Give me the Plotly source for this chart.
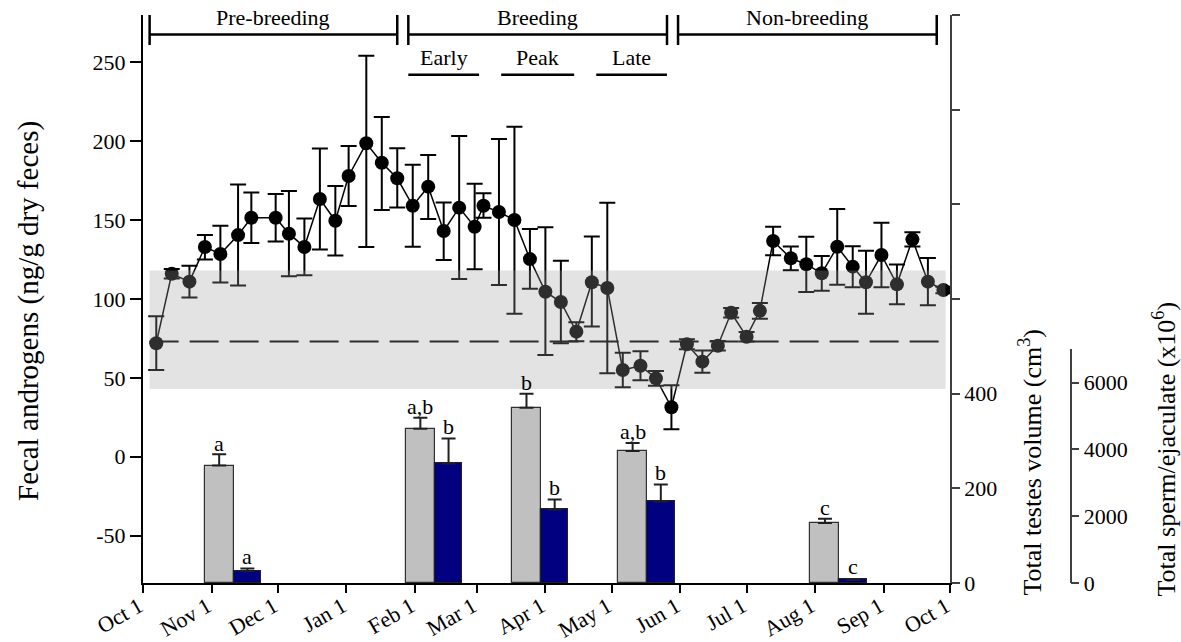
import pandas as pd
import plotly.graph_objects as go

# ---------------- data ----------------
# weekly fecal androgen samples (mean, +/- SE)
sample_dates = [
    "2004-10-07", "2004-10-14", "2004-10-22", "2004-10-29", "2004-11-05", "2004-11-13",
    "2004-11-19", "2004-11-30", "2004-12-06", "2004-12-13", "2004-12-20", "2004-12-27",
    "2005-01-02", "2005-01-10", "2005-01-17", "2005-01-24", "2005-01-31", "2005-02-07",
    "2005-02-14", "2005-02-21", "2005-02-28", "2005-03-04", "2005-03-11", "2005-03-18",
    "2005-03-25", "2005-04-01", "2005-04-08", "2005-04-15", "2005-04-22", "2005-04-29",
    "2005-05-06", "2005-05-14", "2005-05-21", "2005-05-28", "2005-06-04", "2005-06-11",
    "2005-06-18", "2005-06-24", "2005-07-01", "2005-07-07", "2005-07-13", "2005-07-21",
    "2005-07-28", "2005-08-04", "2005-08-11", "2005-08-18", "2005-08-24", "2005-08-31",
    "2005-09-07", "2005-09-14", "2005-09-21", "2005-09-28",
]
androgen_mean = [
    72, 116, 111, 133, 128.5, 140.5, 151.5, 151.5, 141.4, 133, 163.4, 149.6,
    178, 198.7, 186.4, 176.5, 159.1, 171.2, 143.1, 157.9, 145.8, 159.1, 155.1, 150.1,
    125.3, 104.6, 98.1, 79.3, 110.6, 107, 55, 57.7, 49.7, 31.4, 71.3, 60.3,
    70.4, 91.3, 76.1, 92.5, 136.8, 125.8, 122, 116.3, 133.1, 120.5, 110.6, 127.9,
    109.3, 137.8, 111, 105.7,
]
androgen_err_up = [
    17, 3, 10, 7.5, 18, 32, 16, 15, 27, 18, 32, 22,
    19, 55.5, 29, 19, 26, 20, 18, 45.4, 27.3, 8, 46.3, 59,
    19, 40.8, 26.2, 6, 29, 54, 11, 9.2, 4.7, 14, 3.2, 7,
    3, 3, 3, 5, 9, 7.5, 17.5, 11, 24, 13, 20, 20.5,
    12.6, 4.5, 15, 2,
]
androgen_err_down = [
    17, 3, 10, 8, 18, 32, 16, 15, 27, 18, 32, 22,
    19, 65.7, 30, 18.5, 26, 20.5, 18.4, 45.2, 27, 7.6, 46.2, 59.4,
    18.8, 40.1, 26.2, 6, 28, 54, 11, 9.2, 4.7, 14, 3.2, 7,
    3, 3, 3, 5, 9, 7.5, 17.5, 11, 24, 13, 20, 20.5,
    12.6, 4.5, 15, 2,
]

# baseline androgen level and its range
baseline_level = 73
baseline_low = 43
baseline_high = 118
baseline_span = ["2004-10-04", "2005-09-29"]

# reproductive examinations
exam_dates = ["2004-11-11", "2005-02-10", "2005-03-30", "2005-05-17", "2005-08-12"]
testes_volume = [248, 326, 370, 279, 127]
testes_err = [24, 23, 30, 17, 9]
testes_letters = ["a", "a,b", "b", "a,b", "c"]
sperm_total = [360, 3576, 2198, 2438, 100]
sperm_err = [72, 749, 300, 509, 20]
sperm_letters = ["a", "b", "b", "b", "c"]

# seasons and breeding sub-phases
season_names = ["Pre-breeding", "Breeding", "Non-breeding"]
season_start = ["2004-10-04", "2005-01-29", "2005-05-31"]
season_end = ["2005-01-24", "2005-05-26", "2005-09-25"]
phase_names = ["Early", "Peak", "Late"]
phase_start = ["2005-01-29", "2005-03-12", "2005-04-24"]
phase_end = ["2005-03-02", "2005-04-14", "2005-05-26"]

# axis ticks
month_ticks = ["2004-10-01", "2004-11-01", "2004-12-01", "2005-01-01", "2005-02-01",
               "2005-03-01", "2005-04-01", "2005-05-01", "2005-06-01", "2005-07-01",
               "2005-08-01", "2005-09-01", "2005-10-01"]
month_labels = ["Oct 1", "Nov 1", "Dec 1", "Jan 1", "Feb 1", "Mar 1", "Apr 1",
                "May 1", "Jun 1", "Jul 1", "Aug 1", "Sep 1", "Oct 1"]
androgen_ticks = [-50, 0, 50, 100, 150, 200, 250]
androgen_labels = ["-50", "0", "50", "100", "150", "200", "250"]
volume_ticks = [0, 200, 400]
volume_minor_ticks = [600, 800, 1000, 1200]
sperm_ticks = [0, 2000, 4000, 6000]

# ---------------- styling ----------------
FONT = "Liberation Serif"
TICK = 22
DAY_MS = 86400000
grey_w = 13.1 * DAY_MS
blue_w = 12.4 * DAY_MS

L, R, T, B = 143, 10, 15, 59
W, H = 1181, 642
pw, ph = W - L - R, H - T - B
x_dom = 807 / pw

fig = go.Figure()

# testes volume bars (right axis)
fig.add_trace(go.Bar(
    x=exam_dates, y=testes_volume, yaxis="y2", width=grey_w, offset=-grey_w,
    marker=dict(color="#c0c0c0", line=dict(color="#303030", width=1.2)),
    error_y=dict(type="data", symmetric=False, array=testes_err,
                 arrayminus=[0] * len(testes_err), color="#202020", thickness=2, width=7),
    showlegend=False,
))

# sperm per ejaculate bars (outer right axis)
fig.add_trace(go.Bar(
    x=exam_dates, y=sperm_total, yaxis="y3", width=blue_w, offset=0,
    marker=dict(color="#000080", line=dict(color="#202020", width=1.2)),
    error_y=dict(type="data", symmetric=False, array=sperm_err,
                 arrayminus=[0] * len(sperm_err), color="#202020", thickness=2, width=7),
    showlegend=False,
))

# fecal androgen time course
fig.add_trace(go.Scatter(
    x=sample_dates, y=androgen_mean, mode="lines+markers",
    line=dict(color="black", width=1.5),
    marker=dict(color="black", size=14),
    error_y=dict(type="data", symmetric=False, array=androgen_err_up,
                 arrayminus=androgen_err_down, color="black", thickness=2, width=8),
    showlegend=False, cliponaxis=False,
))

shapes = []
# baseline (dashed) and baseline range (translucent band on top of the data)
shapes.append(dict(type="line", xref="x", yref="y", layer="above",
                   x0=baseline_span[0], x1=baseline_span[1],
                   y0=baseline_level, y1=baseline_level,
                   line=dict(color="black", width=2, dash="29px,11px")))
shapes.append(dict(type="rect", xref="x", yref="y", layer="above",
                   x0=baseline_span[0], x1=baseline_span[1],
                   y0=baseline_low, y1=baseline_high,
                   fillcolor="rgba(157,157,157,0.29)", line=dict(width=0)))

annotations = []
# season brackets
SEASON_Y, CAP_LO, CAP_HI = 267.7, 261, 280
for name, s, e in zip(season_names, season_start, season_end):
    shapes.append(dict(type="line", xref="x", yref="y", x0=s, x1=e, y0=SEASON_Y, y1=SEASON_Y,
                       line=dict(color="black", width=2.5)))
    for xx in (s, e):
        shapes.append(dict(type="line", xref="x", yref="y", x0=xx, x1=xx, y0=CAP_LO, y1=CAP_HI,
                           line=dict(color="black", width=2.5)))
    mid = pd.Timestamp(s) + (pd.Timestamp(e) - pd.Timestamp(s)) / 2
    annotations.append(dict(x=mid, y=278.5, xref="x", yref="y", text=name, showarrow=False,
                            xanchor="center", yanchor="middle",
                            font=dict(family=FONT, size=TICK, color="black")))

# breeding sub-phases
PHASE_Y = 242.1
for name, s, e in zip(phase_names, phase_start, phase_end):
    shapes.append(dict(type="line", xref="x", yref="y", x0=s, x1=e, y0=PHASE_Y, y1=PHASE_Y,
                       line=dict(color="black", width=2.5)))
    mid = pd.Timestamp(s) + (pd.Timestamp(e) - pd.Timestamp(s)) / 2
    annotations.append(dict(x=mid, y=253, xref="x", yref="y", text=name, showarrow=False,
                            xanchor="center", yanchor="middle",
                            font=dict(family=FONT, size=TICK, color="black")))

# significance letters above the bars
for d, v, err, lab in zip(exam_dates, testes_volume, testes_err, testes_letters):
    cx = pd.Timestamp(d) - pd.Timedelta(milliseconds=grey_w / 2)
    annotations.append(dict(x=cx, y=v + err, xref="x", yref="y2", text=lab, showarrow=False,
                            xanchor="center", yanchor="middle", yshift=11,
                            font=dict(family=FONT, size=TICK, color="black")))
for d, v, err, lab in zip(exam_dates, sperm_total, sperm_err, sperm_letters):
    cx = pd.Timestamp(d) + pd.Timedelta(milliseconds=blue_w / 2)
    annotations.append(dict(x=cx, y=v + err, xref="x", yref="y3", text=lab, showarrow=False,
                            xanchor="center", yanchor="middle", yshift=12,
                            font=dict(family=FONT, size=TICK, color="black")))


def px_x(px):
    return (px - L) / pw


def px_y(py):
    return (H - B - py) / ph


# axis titles
titles = [
    ("Fecal androgens (ng/g dry feces)", 28, 311, 29),
    ("Total testes volume (cm<sup>3</sup>)", 1031, 462.5, 26),
    ("Total sperm/ejaculate (x10<sup>6</sup>)", 1165, 449.5, 26),
]
for text, cx, cy, size in titles:
    annotations.append(dict(x=px_x(cx), y=px_y(cy), xref="paper", yref="paper", textangle=-90,
                            text=text, showarrow=False, xanchor="center", yanchor="middle",
                            font=dict(family=FONT, size=size, color="black")))

tickfont = dict(family=FONT, size=TICK, color="black")

fig.update_layout(
    template="none",
    width=W, height=H,
    margin=dict(l=L, r=R, t=T, b=B, pad=0),
    paper_bgcolor="white", plot_bgcolor="rgba(0,0,0,0)",
    bargap=0,
    font=dict(family=FONT, size=TICK, color="black"),
    xaxis=dict(
        type="date", domain=[0, x_dom], range=[month_ticks[0], month_ticks[-1]],
        tickvals=month_ticks, ticktext=month_labels, tickangle=-30, tickfont=tickfont,
        ticklabelstandoff=-8, ticklabelshift=-4,
        showgrid=False, zeroline=False, showline=True, linecolor="black", linewidth=2,
        ticks="outside", ticklen=8, tickwidth=2, tickcolor="black", automargin=False,
    ),
    yaxis=dict(
        range=[-80, 280], tickvals=androgen_ticks, ticktext=androgen_labels, tickfont=tickfont,
        showgrid=False, zeroline=False, showline=True, linecolor="black", linewidth=2,
        ticks="outside", ticklen=11, tickwidth=2, tickcolor="black", automargin=False,
    ),
    yaxis2=dict(
        overlaying="y", side="right", anchor="x", range=[0, 1200],
        tickvals=volume_ticks, tickfont=tickfont,
        minor=dict(tickmode="array", tickvals=volume_minor_ticks, ticks="outside",
                   ticklen=8, tickwidth=1.5, tickcolor="#404040", showgrid=False),
        showgrid=False, zeroline=False, showline=True, linecolor="#404040", linewidth=1.5,
        ticks="outside", ticklen=8, tickwidth=1.5, tickcolor="#404040", automargin=False,
    ),
    yaxis3=dict(
        domain=[0, 233.7 / ph], anchor="free", position=px_x(1070.7), side="right",
        range=[0, 7000], tickvals=sperm_ticks, tickfont=tickfont,
        showgrid=False, zeroline=False, showline=True, linecolor="#404040", linewidth=1.5,
        ticks="outside", ticklen=8, tickwidth=1.5, tickcolor="#404040", automargin=False,
    ),
    shapes=shapes,
    annotations=annotations,
)

fig.write_html("out.html")
